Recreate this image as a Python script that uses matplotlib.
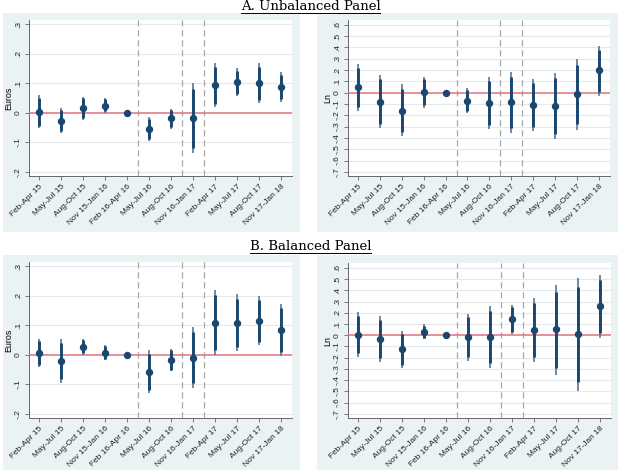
import numpy as np
import matplotlib
matplotlib.use("Agg")
import matplotlib.pyplot as plt
from matplotlib.patches import Rectangle
from matplotlib.lines import Line2D

periods = ["Feb-Apr 15", "May-Jul 15", "Aug-Oct 15", "Nov 15-Jan 16", "Feb 16-Apr 16",
           "May-Jul 16", "Aug-Oct 16", "Nov 16-Jan 17", "Feb-Apr 17", "May-Jul 17",
           "Aug-Oct 17", "Nov 17-Jan 18"]
breaks = [4.5, 6.5, 7.5]

# A. Unbalanced panel, euros
a_eur_est = [0.003, -0.027, 0.017, 0.025, 0.0, -0.055, -0.018, -0.017, 0.095, 0.104, 0.100, 0.088]
a_eur_lo95 = [-0.052, -0.069, -0.024, 0.001, 0.0, -0.095, -0.054, -0.137, 0.019, 0.058, 0.033, 0.038]
a_eur_hi95 = [0.060, 0.016, 0.055, 0.050, 0.0, -0.015, 0.014, 0.100, 0.168, 0.151, 0.168, 0.137]
a_eur_lo90 = [-0.043, -0.062, -0.017, 0.005, 0.0, -0.089, -0.048, -0.118, 0.031, 0.065, 0.044, 0.046]
a_eur_hi90 = [0.051, 0.009, 0.049, 0.046, 0.0, -0.021, 0.009, 0.081, 0.156, 0.143, 0.157, 0.129]

# A. Unbalanced panel, ln
a_ln_est = [0.048, -0.082, -0.159, 0.003, 0.0, -0.070, -0.088, -0.085, -0.106, -0.115, -0.014, 0.198]
a_ln_lo95 = [-0.160, -0.315, -0.383, -0.133, 0.0, -0.177, -0.320, -0.360, -0.339, -0.410, -0.330, -0.027]
a_ln_hi95 = [0.250, 0.157, 0.074, 0.139, 0.0, 0.039, 0.142, 0.180, 0.121, 0.172, 0.298, 0.413]
a_ln_lo90 = [-0.127, -0.278, -0.347, -0.111, 0.0, -0.160, -0.283, -0.316, -0.302, -0.363, -0.280, 0.009]
a_ln_hi90 = [0.218, 0.119, 0.037, 0.117, 0.0, 0.022, 0.105, 0.138, 0.085, 0.126, 0.248, 0.379]

# B. Balanced panel, euros
b_eur_est = [0.007, -0.020, 0.027, 0.008, 0.0, -0.058, -0.017, -0.009, 0.109, 0.109, 0.116, 0.083]
b_eur_lo95 = [-0.041, -0.095, 0.001, -0.019, 0.0, -0.129, -0.056, -0.112, -0.002, 0.012, 0.032, -0.005]
b_eur_hi95 = [0.054, 0.054, 0.054, 0.035, 0.0, 0.015, 0.021, 0.094, 0.221, 0.207, 0.201, 0.173]
b_eur_lo90 = [-0.033, -0.083, 0.005, -0.015, 0.0, -0.118, -0.050, -0.095, 0.016, 0.028, 0.045, 0.009]
b_eur_hi90 = [0.046, 0.042, 0.050, 0.031, 0.0, 0.003, 0.015, 0.078, 0.203, 0.191, 0.187, 0.159]

# B. Balanced panel, ln
b_ln_est = [0.006, -0.035, -0.127, 0.029, 0.0, -0.015, -0.018, 0.144, 0.044, 0.053, 0.009, 0.257]
b_ln_lo95 = [-0.192, -0.236, -0.295, -0.035, 0.0, -0.230, -0.295, 0.009, -0.236, -0.354, -0.496, -0.024]
b_ln_hi95 = [0.206, 0.168, 0.038, 0.097, 0.0, 0.192, 0.257, 0.272, 0.330, 0.451, 0.511, 0.540]
b_ln_lo90 = [-0.160, -0.204, -0.268, -0.025, 0.0, -0.196, -0.251, 0.031, -0.191, -0.289, -0.415, 0.021]
b_ln_hi90 = [0.174, 0.136, 0.012, 0.086, 0.0, 0.159, 0.213, 0.252, 0.284, 0.387, 0.431, 0.495]

W, H = 621, 470
fig = plt.figure(figsize=(W / 100, H / 100), dpi=100)
fig.patch.set_facecolor("white")

BG = "#eaf2f3"
NAVY = "#1a476f"
OUTER = "#5a7690"
RED = "#e0707c"
GRID = "#e4eaec"


def box(x0, y0, x1, y1):
    return [x0 / W, 1 - y1 / H, (x1 - x0) / W, (y1 - y0) / H]


def fmt(v):
    if abs(v) < 1e-9:
        return "0"
    s = "%.1f" % v
    return s.replace("0.", ".")


# light blue graph regions (drawn below the axes)
for (x0, y0, x1, y1) in [(3, 13, 300, 232), (317, 13, 618, 232),
                         (3, 255, 300, 470), (317, 255, 618, 470)]:
    fig.patches.append(Rectangle((x0 / W, 1 - y1 / H), (x1 - x0) / W, (y1 - y0) / H,
                                 transform=fig.transFigure, facecolor=BG,
                                 edgecolor="none", zorder=-5))


def panel(rect, est, lo95, hi95, lo90, hi90, ylabel, yticks, ylim):
    ax = fig.add_axes(box(*rect))
    x = np.arange(len(est))
    ax.set_facecolor("white")
    ax.set_xlim(-0.45, 11.5)
    ax.set_ylim(*ylim)
    for t in yticks:
        if abs(t) > 1e-9:
            ax.axhline(t, color=GRID, lw=0.8, zorder=1)
    for b in breaks:
        ax.axvline(b, color="#a8a8a8", lw=0.9, ls=(0, (5, 3)), zorder=2)
    ax.axhline(0, color=RED, lw=1.1, zorder=3)
    ax.vlines(x, lo95, hi95, color=OUTER, lw=1.2, zorder=4)
    ax.vlines(x, lo90, hi90, color=NAVY, lw=2.1, zorder=5)
    ax.plot(x, est, "o", color=NAVY, ms=4.3, zorder=6)
    ax.set_xticks(x)
    ax.set_xticklabels(periods, rotation=45, ha="right", rotation_mode="anchor",
                       fontsize=6.0, family="Liberation Sans", color="#222222")
    ax.set_yticks(yticks)
    ax.set_yticklabels([fmt(t) for t in yticks], rotation=90, va="center",
                       fontsize=6.0, family="Liberation Sans", color="#222222")
    ax.tick_params(axis="both", length=3, width=0.6, color="#666666", pad=2)
    ax.set_ylabel(ylabel, fontsize=6.4, family="Liberation Sans", labelpad=1)
    for s in ["top", "right"]:
        ax.spines[s].set_visible(False)
    for s in ["left", "bottom"]:
        ax.spines[s].set_color("#666666")
        ax.spines[s].set_linewidth(0.7)
    return ax


eur_ticks = [-0.2, -0.1, 0.0, 0.1, 0.2, 0.3]
ln_ticks = [-0.7, -0.6, -0.5, -0.4, -0.3, -0.2, -0.1, 0.0, 0.1, 0.2, 0.3, 0.4, 0.5, 0.6]
eur_lim = (-0.214, 0.315)
ln_lim = (-0.737, 0.643)

panel((29, 20, 292, 176), a_eur_est, a_eur_lo95, a_eur_hi95, a_eur_lo90, a_eur_hi90,
      "Euros", eur_ticks, eur_lim)
panel((348, 20, 610, 176), a_ln_est, a_ln_lo95, a_ln_hi95, a_ln_lo90, a_ln_hi90,
      "Ln", ln_ticks, ln_lim)
panel((29, 262, 292, 418), b_eur_est, b_eur_lo95, b_eur_hi95, b_eur_lo90, b_eur_hi90,
      "Euros", eur_ticks, eur_lim)
panel((348, 263, 611, 418), b_ln_est, b_ln_lo95, b_ln_hi95, b_ln_lo90, b_ln_hi90,
      "Ln", ln_ticks, ln_lim)

# underlined section titles
renderer = fig.canvas.get_renderer()
for label, ypix in [("A. Unbalanced Panel", 6), ("B. Balanced Panel", 246)]:
    t = fig.text(0.5, 1 - ypix / H, label, ha="center", va="center",
                 fontsize=9.5, family="DejaVu Serif")
    bb = t.get_window_extent(renderer)
    x0, x1 = bb.x0 / W, bb.x1 / W
    yline = (bb.y0 - 0.5) / H
    fig.lines.append(Line2D([x0, x1], [yline, yline], transform=fig.transFigure,
                            color="black", lw=0.7))

fig.savefig("out.png", dpi=100)
